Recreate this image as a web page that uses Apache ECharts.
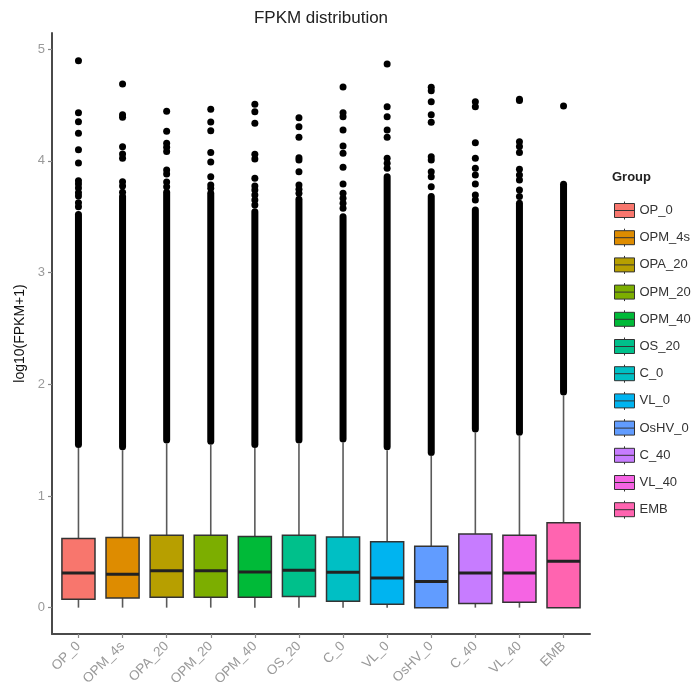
<!DOCTYPE html>
<html>
<head>
<meta charset="utf-8">
<script src="https://cdn.jsdelivr.net/npm/echarts@6/dist/echarts.min.js"></script>
<style>html,body{margin:0;padding:0;background:#fff}#c{width:699px;height:691px}</style>
</head>
<body>
<div id="c"></div>
<script>
const groups = ['OP_0','OPM_4s','OPA_20','OPM_20','OPM_40','OS_20','C_0','VL_0','OsHV_0','C_40','VL_40','EMB'];
const colors = ['#F8766D','#DE8C00','#B79F00','#7CAE00','#00BA38','#00C08B','#00BFC4','#00B4F0','#619CFF','#C77CFF','#F564E3','#FF64B0'];
const whiskerLow  = [0,0,0,0,0,0,0,0,0,0,0,0];
const q1          = [0.075,0.087,0.093,0.093,0.093,0.099,0.057,0.030,0.000,0.036,0.048,0.000];
const median      = [0.310,0.300,0.330,0.330,0.320,0.335,0.317,0.266,0.233,0.310,0.310,0.415];
const q3          = [0.620,0.627,0.648,0.648,0.636,0.648,0.633,0.590,0.550,0.660,0.648,0.760];
const whiskerHigh = [1.43,1.41,1.47,1.46,1.43,1.47,1.48,1.41,1.36,1.57,1.54,1.90];
const denseBottom = [1.46,1.44,1.50,1.49,1.46,1.50,1.51,1.44,1.39,1.60,1.57,1.93];
const denseTop    = [3.52,3.68,3.72,3.71,3.545,3.656,3.50,3.858,3.68,3.56,3.62,3.79];
const outliers = [
  [4.897,4.43,4.35,4.247,4.10,3.98,3.823,3.793,3.757,3.715,3.686,3.626,3.59],
  [4.689,4.414,4.39,4.127,4.062,4.023,3.814,3.775,3.72],
  [4.444,4.265,4.158,4.122,4.083,3.918,3.883,3.811,3.769],
  [4.462,4.348,4.27,4.074,3.99,3.858,3.785,3.755],
  [4.507,4.44,4.337,4.06,4.017,3.844,3.775,3.74,3.694,3.65,3.605],
  [4.387,4.306,4.211,4.029,4.008,3.903,3.785,3.746,3.71],
  [4.662,4.431,4.396,4.277,4.133,4.068,3.943,3.793,3.71,3.666,3.62,3.575],
  [4.868,4.485,4.396,4.277,4.211,4.023,3.979,3.935],
  [4.659,4.627,4.53,4.414,4.346,4.038,4.008,3.903,3.858,3.769],
  [4.53,4.485,4.163,4.023,3.935,3.874,3.793,3.695,3.65],
  [4.552,4.54,4.172,4.128,4.074,3.925,3.874,3.829,3.74,3.68],
  [4.491]
];
const yTicks = [0,1,2,3,4,5];

const xPos = groups.map((g,i)=>i+1);
const FONT = '"Liberation Sans", Arial, sans-serif';

const boxSeries = groups.map((g,i)=>({
  name: g,
  type: 'custom',
  z: 3,
  itemStyle: {color: colors[i]},
  encode: {x:0, y:[1,2,3,4,5]},
  data: [[xPos[i], whiskerLow[i], q1[i], median[i], q3[i], whiskerHigh[i]]],
  renderItem: function(params, api){
    const x = api.value(0);
    const pLow = api.coord([x, api.value(1)]);
    const pQ1 = api.coord([x, api.value(2)]);
    const pMed = api.coord([x, api.value(3)]);
    const pQ3 = api.coord([x, api.value(4)]);
    const pHigh = api.coord([x, api.value(5)]);
    const hw = api.size([0.375, 0])[0];
    const wl = {stroke:'#5a5a5a', lineWidth:1.6};
    return {type:'group', children:[
      {type:'line', shape:{x1:pQ3[0],y1:pQ3[1],x2:pHigh[0],y2:pHigh[1]}, style:wl},
      {type:'line', shape:{x1:pQ1[0],y1:pQ1[1],x2:pLow[0],y2:pLow[1]}, style:wl},
      {type:'rect', shape:{x:pQ3[0]-hw, y:pQ3[1], width:hw*2, height:pQ1[1]-pQ3[1]},
        style:{fill:colors[i], stroke:'#333', lineWidth:1.5}},
      {type:'line', shape:{x1:pMed[0]-hw,y1:pMed[1],x2:pMed[0]+hw,y2:pMed[1]}, style:{stroke:'#222', lineWidth:3}}
    ]};
  }
}));

const denseSeries = {
  name: 'dense',
  type: 'custom',
  z: 2,
  encode: {x:0, y:[1,2]},
  data: groups.map((g,i)=>[xPos[i], denseBottom[i], denseTop[i]]),
  renderItem: function(params, api){
    const x = api.value(0);
    const a = api.coord([x, api.value(1)]);
    const b = api.coord([x, api.value(2)]);
    return {type:'line', shape:{x1:a[0],y1:a[1],x2:b[0],y2:b[1]}, style:{stroke:'#000', lineWidth:7, lineCap:'round'}};
  }
};

const outlierData = [];
outliers.forEach((arr,i)=>arr.forEach(v=>outlierData.push([xPos[i], v])));
const outlierSeries = {
  name: 'outliers', type:'scatter', z:2, symbol:'circle', symbolSize:7,
  itemStyle:{color:'#000', opacity:1}, data: outlierData, silent:true
};

const legendIcon = 'path://M0,2 L20,2 L20,16 L0,16 Z M0,9 L20,9 M10,0 L10,2 M10,16 L10,18';

const option = {
  backgroundColor: '#fff',
  animation: false,
  textStyle: {fontFamily: FONT},
  grid: {left:52, right:109, top:33, bottom:57, containLabel:false},
  xAxis: {
    type:'value', min:0.4, max:12.6,
    splitLine:{show:false},
    axisLine:{show:true, onZero:false, lineStyle:{color:'#4a4a4a', width:2}},
    axisTick:{show:true, customValues:xPos, length:4, lineStyle:{color:'#888', width:1.2}},
    axisLabel:{show:true, customValues:xPos, rotate:45, margin:10, color:'#9a9a9a', fontSize:13.5, fontFamily:FONT,
      formatter: v => groups[Math.round(v)-1] || ''}
  },
  yAxis: {
    type:'value', min:-0.236, max:5.145,
    name:'log10(FPKM+1)', nameLocation:'middle', nameGap:23,
    nameTextStyle:{color:'#111', fontSize:14, fontFamily:FONT},
    splitLine:{show:false},
    axisLine:{show:true, onZero:false, lineStyle:{color:'#4a4a4a', width:2}},
    axisTick:{show:true, customValues:yTicks, length:4, lineStyle:{color:'#888', width:1.2}},
    axisLabel:{show:true, customValues:yTicks, margin:7, color:'#9a9a9a', fontSize:13, fontFamily:FONT}
  },
  legend: {
    orient:'vertical', left:609, top:196, itemWidth:20, itemHeight:18, itemGap:8.2,
    textStyle:{color:'#333', fontSize:13, fontFamily:FONT},
    selectedMode:false,
    data: groups.map((g,i)=>({name:g, icon:legendIcon, itemStyle:{color:colors[i], borderColor:'#333', borderWidth:1}}))
  },
  graphic: [
    {type:'text', x:321, y:10, style:{text:'FPKM distribution', font:'17px '+FONT, fill:'#222', textAlign:'center', textVerticalAlign:'top'}},
    {type:'text', x:612, y:171, style:{text:'Group', font:'bold 13px '+FONT, fill:'#222', textAlign:'left', textVerticalAlign:'top'}}
  ],
  series: [...boxSeries, denseSeries, outlierSeries]
};

const chart = echarts.init(document.getElementById('c'), null, {renderer:'canvas'});
chart.setOption(option);
</script>
</body>
</html>
